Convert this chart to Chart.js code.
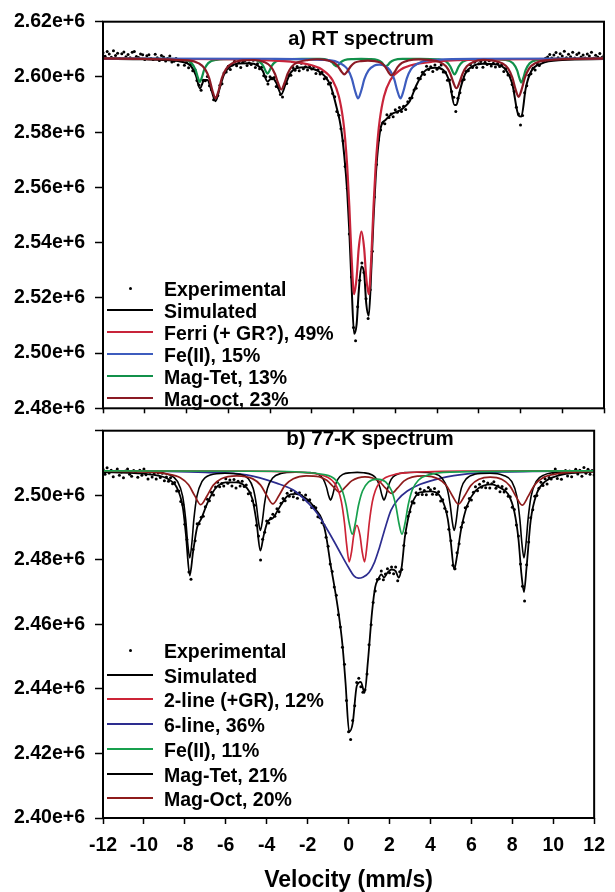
<!DOCTYPE html>
<html><head><meta charset="utf-8">
<script src="https://cdn.jsdelivr.net/npm/chart.js@4.4.1/dist/chart.umd.min.js"></script>
<style>
html,body{margin:0;padding:0;background:#fff;}
#wrap{position:relative;width:615px;height:892px;overflow:hidden;background:#fff;font-family:"Liberation Sans",Arial,sans-serif;font-weight:bold;color:#000;}
canvas{position:absolute;left:0;}
#c1{top:0;}
#c2{top:409px;}
.ptitle{position:absolute;white-space:nowrap;transform:translateX(-50%);line-height:24px;}
.row{position:absolute;white-space:nowrap;font-size:19.5px;line-height:22px;}
.mk{position:absolute;}
</style></head><body>
<div id="wrap">
<canvas id="c1" width="615" height="430"></canvas>
<canvas id="c2" width="615" height="483"></canvas>
<div class="ptitle" style="left:361px;top:26px;font-size:20px;">a) RT spectrum</div>
<div class="ptitle" style="left:370px;top:426px;font-size:20.5px;">b) 77-K spectrum</div>
<div id="leg1"></div><div id="leg2"></div>
</div>
<script>
// ---- velocity channels (mm/s) shared by both measured spectra ----
const velocity = [
-12,-11.9,-11.8,-11.7,-11.6,-11.5,-11.4,-11.3,-11.2,-11.1,
-11,-10.9,-10.8,-10.7,-10.6,-10.5,-10.4,-10.3,-10.2,-10.1,
-10,-9.9,-9.8,-9.7,-9.6,-9.5,-9.4,-9.3,-9.2,-9.1,
-9,-8.9,-8.8,-8.7,-8.6,-8.5,-8.4,-8.3,-8.2,-8.1,
-8,-7.9,-7.8,-7.7,-7.6,-7.5,-7.4,-7.3,-7.2,-7.1,
-7,-6.9,-6.8,-6.7,-6.6,-6.5,-6.4,-6.3,-6.2,-6.1,
-6,-5.9,-5.8,-5.7,-5.6,-5.5,-5.4,-5.3,-5.2,-5.1,
-5,-4.9,-4.8,-4.7,-4.6,-4.5,-4.4,-4.3,-4.2,-4.1,
-4,-3.9,-3.8,-3.7,-3.6,-3.5,-3.4,-3.3,-3.2,-3.1,
-3,-2.9,-2.8,-2.7,-2.6,-2.5,-2.4,-2.3,-2.2,-2.1,
-2,-1.9,-1.8,-1.7,-1.6,-1.5,-1.4,-1.3,-1.2,-1.1,
-1,-0.9,-0.8,-0.7,-0.6,-0.5,-0.4,-0.3,-0.2,-0.1,
0,0.1,0.2,0.3,0.4,0.5,0.6,0.7,0.8,0.9,
1,1.1,1.2,1.3,1.4,1.5,1.6,1.7,1.8,1.9,
2,2.1,2.2,2.3,2.4,2.5,2.6,2.7,2.8,2.9,
3,3.1,3.2,3.3,3.4,3.5,3.6,3.7,3.8,3.9,
4,4.1,4.2,4.3,4.4,4.5,4.6,4.7,4.8,4.9,
5,5.1,5.2,5.3,5.4,5.5,5.6,5.7,5.8,5.9,
6,6.1,6.2,6.3,6.4,6.5,6.6,6.7,6.8,6.9,
7,7.1,7.2,7.3,7.4,7.5,7.6,7.7,7.8,7.9,
8,8.1,8.2,8.3,8.4,8.5,8.6,8.7,8.8,8.9,
9,9.1,9.2,9.3,9.4,9.5,9.6,9.7,9.8,9.9,
10,10.1,10.2,10.3,10.4,10.5,10.6,10.7,10.8,10.9,
11,11.1,11.2,11.3,11.4,11.5,11.6,11.7,11.8,11.9,
12];

// ---- a) RT spectrum ----
const rtExperimental = [
2608800,2607500,2609200,2608300,2607100,2609500,2607800,2608600,2606700,2608400,
2609000,2607300,2608100,2606900,2608900,2609200,2607400,2607000,2608300,2608000,
2606300,2607650,2608050,2606650,2606350,2608250,2606950,2605950,2607750,2607250,
2605750,2606650,2607570,2605400,2605720,2606650,2604280,2606000,2606100,2604250,
2605200,2603300,2604550,2602200,2602700,2598700,2597100,2595200,2598800,2598600,
2600130,2596800,2595400,2591700,2592400,2593300,2596990,2597500,2601440,2601800,
2603900,2602700,2604300,2605700,2604050,2605520,2603380,2605320,2605940,2604150,
2605040,2604500,2606050,2603450,2604790,2603000,2603500,2600400,2600100,2597450,
2600100,2599310,2599800,2596570,2596200,2593600,2592700,2597200,2597600,2600600,
2600630,2603400,2602450,2603820,2602250,2604920,2602970,2603700,2602480,2604030,
2602860,2603800,2601200,2602580,2601050,2601800,2599340,2599700,2597400,2597770,
2594000,2592800,2587500,2586100,2581250,2576800,2567600,2559570,2543130,2527530,
2509300,2504500,2516800,2526400,2532600,2529200,2519700,2512500,2522900,2536900,
2556500,2568300,2577200,2580800,2583400,2583000,2586300,2585300,2586600,2585600,
2588100,2587200,2588900,2587500,2589400,2588200,2591000,2592300,2592500,2595300,
2595900,2599500,2599300,2601700,2600900,2603900,2602700,2603700,2601950,2604300,
2602750,2603400,2604350,2601800,2601700,2598800,2598930,2594700,2592600,2587500,
2592300,2594310,2598700,2599100,2602100,2602200,2604450,2603450,2605300,2603450,
2604750,2605600,2603470,2605280,2604460,2605820,2603980,2604920,2603560,2604900,
2603800,2604400,2602000,2602990,2600700,2600600,2597260,2594700,2589000,2586600,
2582600,2586000,2594300,2596800,2600600,2601170,2603100,2602500,2604900,2604150,
2606020,2605550,2606750,2607200,2608150,2606850,2607950,2608850,2606950,2608420,
2607590,2609330,2606960,2608200,2607330,2608960,2606890,2608110,2608630,2607250,
2607970,2606880,2608290,2607600,2608910,2606720,2607830,2607240,2608450,2607055,
2607760];

const rtSimVel = [-12,-10,-9,-8.3,-7.8,-7.55,-7.36,-7.15,-7.0,-6.8,-6.61,-6.4,-6.2,-5.9,-5.5,-5.0,-4.6,-4.35,-4.12,-3.9,-3.7,-3.46,-3.25,-3.0,-2.7,-2.3,-2.0,-1.7,-1.4,-1.1,-0.82,-0.6,-0.44,-0.3,-0.2,-0.1,0.03,0.15,0.25,0.38,0.51,0.61,0.73,0.86,0.96,1.06,1.16,1.3,1.55,1.82,2.05,2.25,2.45,2.7,3.0,3.4,3.9,4.3,4.6,4.84,4.93,5.1,5.35,5.7,6.2,6.8,7.3,7.6,7.91,8.04,8.25,8.5,9.0,10,12];
const rtSimulated = [2606500,2606360,2606135,2605600,2604050,2600540,2595840,2598860,2598930,2595000,2591220,2596190,2600940,2603800,2604820,2604940,2604190,2602230,2598340,2599710,2597870,2593730,2597500,2601630,2603220,2603500,2603060,2602180,2600440,2596870,2589280,2581650,2571310,2558370,2544130,2526030,2507000,2510500,2522260,2531325,2528960,2518000,2513500,2531340,2548990,2563320,2573190,2581500,2584500,2586500,2587300,2588000,2589200,2591300,2596800,2602000,2603300,2602500,2598130,2589790,2589880,2595210,2601160,2603850,2604770,2604560,2602590,2597760,2586000,2585650,2595840,2601870,2604820,2606090,2606460];

const rtFerriVel = [-12,-5,-3,-2,-1.5,-1,-0.7,-0.5,-0.4,-0.3,-0.2,-0.1,0.03,0.15,0.25,0.38,0.51,0.61,0.73,0.86,0.96,1.06,1.16,1.26,1.46,1.76,2.26,2.76,3.76,5.76,12];
const rtFerri = [2606640,2606235,2605510,2604240,2602650,2598800,2592920,2584600,2577600,2567500,2553200,2535900,2521300,2527400,2537900,2544000,2537900,2527400,2521300,2535900,2553200,2567500,2577600,2584600,2592920,2598800,2602650,2604240,2605510,2606235,2606640];

const rtFe2Vel = [-12,-4,-1.5,-0.78,-0.28,-0.08,0.07,0.22,0.37,0.52,0.72,1.0,1.235,1.47,1.75,1.95,2.1,2.25,2.4,2.55,2.75,3.25,4.0,6.0,12];
const rtFe2 = [2606680,2606579,2606190,2605383,2602740,2599370,2595090,2592200,2594988,2599188,2602412,2604103,2604420,2604103,2602412,2599188,2594988,2592200,2595076,2599370,2602740,2605383,2606206,2606579,2606680];

const rtMagTetVel = [-12,-8.96,-8.16,-7.76,-7.56,-7.46,-7.36,-7.26,-7.16,-6.96,-6.56,-5.74,-4.92,-4.52,-4.32,-4.22,-4.12,-4.02,-3.92,-3.72,-3.32,-2.47,-1.62,-1.22,-1.02,-0.92,-0.82,-0.72,-0.62,-0.42,-0.02,0.365,0.75,1.15,1.35,1.45,1.55,1.65,1.75,1.95,2.35,3.2,4.04,4.44,4.64,4.74,4.84,4.94,5.04,5.24,5.64,6.44,7.24,7.64,7.84,7.94,8.04,8.14,8.24,8.44,8.84,9.64,12];
const rtMagTet = [2606700,2606570,2606200,2605000,2602450,2599900,2598200,2599900,2602450,2605000,2606200,2606485,2606375,2605600,2603950,2602300,2601200,2602300,2603950,2605600,2606375,2606570,2606530,2606120,2605250,2604380,2603800,2604380,2605250,2606120,2606480,2606540,2606480,2606120,2605250,2604380,2603800,2604380,2605250,2606120,2606530,2606566,2606358,2605540,2603800,2602060,2600900,2602060,2603800,2605540,2606358,2606477,2606187,2604960,2602350,2599740,2598000,2599740,2602350,2604960,2606187,2606566,2606700];

const rtMagOctVel = [-12,-7.91,-7.41,-7.11,-6.91,-6.76,-6.61,-6.46,-6.31,-6.11,-5.81,-5.31,-4.76,-4.26,-3.96,-3.76,-3.61,-3.46,-3.31,-3.16,-2.96,-2.66,-2.16,-1.74,-1.24,-0.94,-0.74,-0.59,-0.44,-0.29,-0.14,0.06,0.36,0.69,1.02,1.32,1.52,1.67,1.82,1.97,2.12,2.32,2.62,3.12,3.63,4.13,4.43,4.63,4.78,4.93,5.08,5.23,5.43,5.73,6.23,6.61,7.11,7.41,7.61,7.76,7.91,8.06,8.21,8.41,8.71,9.21,12];
const rtMagOct = [2606700,2605975,2604916,2602857,2599450,2595100,2592200,2595100,2599450,2602857,2604916,2605975,2606137,2605316,2603719,2601075,2597700,2595450,2597700,2601075,2603719,2605316,2606137,2606410,2605987,2605163,2603800,2602060,2600900,2602060,2603800,2605163,2605740,2605910,2605712,2605070,2603625,2601780,2600550,2601780,2603625,2605070,2605944,2606392,2606160,2605372,2603838,2601300,2598060,2595900,2598060,2601300,2603838,2605372,2606160,2606005,2604990,2603016,2599750,2595580,2592800,2595580,2599750,2603016,2604990,2606005,2606700];

// ---- b) 77-K spectrum ----
const ltExperimental = [
2508060,2506540,2508520,2506900,2507780,2505760,2507440,2508120,2506200,2507180,
2505460,2507540,2508120,2506500,2505880,2507660,2507120,2505570,2507720,2506160,
2508100,2506330,2505060,2507100,2505640,2506680,2505030,2506860,2505480,2506790,
2504500,2505680,2504340,2505450,2503600,2503950,2501280,2501300,2498100,2497130,
2491000,2486300,2476200,2474000,2483190,2485900,2491200,2491200,2493190,2493500,
2496400,2498780,2498300,2500900,2500100,2502580,2504000,2502600,2503650,2502850,
2505090,2503750,2504700,2502900,2504870,2502220,2504350,2502900,2504300,2502700,
2503160,2500500,2500700,2498260,2496900,2490720,2487400,2479900,2486400,2488500,
2492000,2491400,2492900,2494100,2493500,2495800,2494900,2497500,2499000,2498300,
2500600,2499700,2501500,2499550,2500900,2499100,2500750,2499900,2498640,2500100,
2498200,2498600,2496200,2496600,2496120,2493300,2493000,2491500,2490800,2487000,
2484200,2478700,2476400,2471600,2469000,2463000,2459200,2452900,2447600,2436400,
2426700,2424300,2430200,2434800,2442000,2443300,2440700,2439000,2439700,2444600,
2453700,2459900,2466800,2470300,2473900,2474100,2476500,2473800,2475600,2477200,
2476000,2477800,2475700,2477800,2473500,2476300,2477000,2484400,2488300,2493500,
2494900,2498000,2497600,2500800,2500200,2501900,2500200,2501500,2500150,2502400,
2501700,2500300,2502100,2500200,2501100,2498200,2498600,2496000,2494900,2489500,
2485900,2478300,2477200,2482200,2485000,2490100,2491600,2496100,2496600,2499000,
2498500,2500900,2502600,2501400,2503400,2502500,2504300,2502350,2503800,2502280,
2503600,2504200,2502200,2502900,2501100,2502700,2501000,2502000,2499700,2499500,
2496300,2495600,2490800,2487400,2478700,2471800,2467200,2478500,2485500,2493000,
2495500,2499700,2499900,2502200,2504000,2503000,2505100,2503500,2505500,2505050,
2506650,2508150,2505200,2506750,2504950,2506750,2507650,2505950,2507550,2505750,
2507200,2508040,2506580,2507720,2505860,2508600,2506840,2508080,2506520,2507660,
2506300];

const ltSimVel = [-12,-10.5,-9.5,-8.8,-8.4,-8.1,-7.95,-7.76,-7.6,-7.4,-7.2,-6.9,-6.5,-6.0,-5.5,-5.0,-4.7,-4.5,-4.31,-4.15,-3.95,-3.7,-3.4,-3.0,-2.6,-2.2,-1.86,-1.6,-1.3,-1.1,-0.88,-0.7,-0.5,-0.3,-0.15,0.03,0.2,0.4,0.6,0.78,0.95,1.15,1.3,1.45,1.6,1.73,1.9,2.1,2.3,2.45,2.6,2.75,2.9,3.05,3.35,3.6,4.0,4.4,4.7,4.85,5.0,5.16,5.3,5.5,5.8,6.2,6.6,7.0,7.4,7.8,8.1,8.3,8.45,8.57,8.7,8.9,9.2,9.6,10.2,11,12];
const ltSimulated = [2507160,2506860,2506280,2504940,2502480,2496230,2487890,2475130,2482390,2490100,2492690,2497580,2502180,2503990,2504020,2502460,2498860,2491820,2482840,2487500,2491880,2492900,2496000,2499700,2500400,2499540,2497750,2495500,2492500,2487500,2478500,2472000,2464000,2453700,2442000,2426700,2429300,2440900,2442200,2438800,2448900,2464000,2471500,2474000,2475500,2474500,2476000,2477000,2476500,2474500,2478000,2487000,2492500,2496500,2500300,2501000,2501200,2500300,2496500,2492500,2485200,2477000,2481200,2489500,2496900,2501400,2503000,2503400,2502300,2500300,2494900,2486500,2475300,2470000,2477900,2492200,2500600,2504200,2506000,2506900,2507300];

const ltTwoLineVel = [-12,-5,-3,-2,-1.5,-1,-0.7,-0.5,-0.35,-0.2,-0.1,0.03,0.15,0.25,0.405,0.56,0.66,0.78,0.91,1.01,1.16,1.31,1.51,1.81,2.31,2.81,3.81,5.81,12];
const ltTwoLine = [2507575,2507475,2507282,2506945,2506525,2505474,2503860,2501480,2497970,2491400,2485020,2479380,2482700,2487480,2490680,2487480,2482700,2479380,2485020,2491400,2497970,2501480,2503860,2505474,2506525,2506945,2507282,2507475,2507575];

const ltSixLineVel = [-12,-9,-7,-5,-3.52,-2.7,-1.93,-1.5,-1.13,-0.7,-0.33,0,0.25,0.47,0.7,1.0,1.27,1.5,1.8,2.07,2.4,2.87,3.5,4.47,5.9,7.5,9,12];
const ltSixLine = [2507500,2507400,2507100,2506300,2503750,2501600,2497300,2494100,2490300,2485600,2481300,2477600,2475100,2474300,2474600,2476100,2479300,2483600,2490100,2495300,2498600,2501300,2503400,2505250,2506700,2507200,2507400,2507500];

const ltFe2Vel = [-12,-4,-1.12,-0.62,-0.32,-0.12,0.03,0.18,0.33,0.48,0.68,0.98,1.395,1.81,2.11,2.31,2.46,2.61,2.76,2.91,3.11,3.41,3.91,5,12];
const ltFe2 = [2507570,2507438,2506320,2504665,2501638,2496918,2491402,2487960,2491311,2496740,2501335,2504123,2505022,2504123,2501335,2496740,2491311,2487960,2491397,2496908,2501628,2504660,2506315,2507160,2507570];

const ltMagTetVel = [-12,-9.56,-8.76,-8.36,-8.11,-7.96,-7.86,-7.76,-7.66,-7.56,-7.41,-7.16,-6.76,-6.04,-5.31,-4.91,-4.66,-4.51,-4.41,-4.31,-4.21,-4.11,-3.96,-3.71,-3.31,-2.6,-1.88,-1.48,-1.23,-1.08,-0.98,-0.88,-0.78,-0.68,-0.53,-0.28,0.12,0.425,0.73,1.13,1.38,1.53,1.63,1.73,1.83,1.93,2.08,2.33,2.73,3.36,4.16,4.56,4.81,4.96,5.06,5.16,5.26,5.36,5.51,5.76,6.16,6.9,7.57,7.97,8.22,8.37,8.47,8.57,8.67,8.77,8.92,9.17,9.57,10.37,12];
const ltMagTet = [2507500,2507184,2506304,2504279,2499716,2492507,2485055,2480600,2485055,2492507,2499716,2504279,2506304,2506839,2506485,2505184,2502100,2497258,2492152,2489100,2492152,2497258,2502198,2505324,2506712,2507132,2507007,2506481,2504943,2502513,2500001,2498500,2500001,2502513,2504943,2506481,2506990,2507074,2506990,2506368,2504943,2502513,2500001,2498500,2500001,2502513,2504943,2506364,2507006,2507145,2506712,2505324,2502198,2497258,2492152,2489100,2492152,2497258,2502198,2505151,2506479,2506814,2506145,2504279,2499716,2492507,2485055,2480600,2485055,2492507,2499716,2504279,2506304,2507184,2507500];

const ltMagOctVel = [-12,-10,-8.82,-8.22,-7.82,-7.52,-7.22,-6.92,-6.62,-6.22,-5.46,-4.7,-4.3,-4.0,-3.7,-3.4,-3.1,-2.7,-2.07,-1.45,-1.05,-0.75,-0.45,-0.15,0.15,0.8,1.5,1.8,2.1,2.4,2.7,3.1,3.73,4.37,4.77,5.07,5.37,5.67,5.97,6.37,6.925,7.48,7.88,8.18,8.48,8.78,9.08,9.48,10.08,11,12];
const ltMagOct = [2507430,2507200,2506569,2505420,2503232,2499870,2497071,2499762,2503057,2505123,2506033,2505148,2503148,2499963,2497309,2499931,2503129,2505143,2506032,2505728,2504570,2502654,2500997,2502561,2504445,2505684,2504303,2502258,2500571,2502298,2504383,2505635,2506000,2505099,2503075,2499871,2497238,2499831,2502994,2504942,2505597,2504933,2502908,2499607,2496911,2499713,2503130,2505349,2506544,2507129,2507344];

// tick marks of the axes and legend texts
const velTicks = {min: -12, max: 12, step: 2};
const rtCountTicks = {min: 2480000, max: 2620000, step: 20000};
const ltCountTicks = {min: 2400000, max: 2520000, step: 20000};
const rtLegendLabels = ['Experimental','Simulated','Ferri (+ GR?), 49%','Fe(II), 15%','Mag-Tet, 13%','Mag-oct, 23%'];
const ltLegendLabels = ['Experimental','Simulated','2-line (+GR), 12%','6-line, 36%','Fe(II), 11%','Mag-Tet, 21%','Mag-Oct, 20%'];

// ---- styles ----
const rtColors = {ferri:'#C8243A', fe2:'#3D5CBE', tet:'#11904A', oct:'#8B1A24'};
const ltColors = {two:'#CC2436', six:'#2D2D8F', fe2:'#18A04E', tet:'#000000', oct:'#8E1B1B'};
const FAM = '"Liberation Sans", Arial, sans-serif';
const tickFont = {family: FAM, size: 19.5, weight: 'bold'};

function pts(xs, ys){ return xs.map((x, i) => ({x: x, y: ys[i]})); }
function curve(label, xs, ys, color, width, order){
  return {label, data: pts(xs, ys), showLine: true, borderColor: color, backgroundColor: color,
    borderWidth: width, pointRadius: 0, pointHoverRadius: 0, fill: false,
    cubicInterpolationMode: 'monotone', order};
}
function dots(label, xs, ys, order){
  return {label, data: pts(xs, ys), showLine: false, pointRadius: 1.5, pointHoverRadius: 0,
    pointBackgroundColor: '#000', pointBorderWidth: 0, borderColor: '#000', backgroundColor: '#000', order};
}
const frame = {id: 'frame', afterDatasetsDraw(chart){
  const a = chart.chartArea, c = chart.ctx;
  c.save(); c.strokeStyle = '#000'; c.lineWidth = 2;
  c.strokeRect(a.left, a.top, a.right - a.left, a.bottom - a.top); c.restore();
}};
const fmt = v => (v / 1e6).toFixed(2) + 'e+6';

function yScale(t, hideTop){
  return {type: 'linear', min: t.min, max: t.max,
    ticks: {stepSize: t.step, font: tickFont, color: '#000', padding: 10,
      callback: v => (hideTop && v >= t.max) ? '' : fmt(v)},
    grid: {display: true, drawOnChartArea: false, drawTicks: true, tickLength: 8, tickColor: '#000', tickWidth: 1.5},
    border: {display: false},
    afterFit: s => { s.width = 103; }};
}

new Chart(document.getElementById('c1'), {
  type: 'scatter',
  data: {datasets: [
    dots('Experimental', velocity, rtExperimental, 6),
    curve('Simulated', rtSimVel, rtSimulated, '#000', 2, 5),
    curve('Ferri (+ GR?), 49%', rtFerriVel, rtFerri, rtColors.ferri, 2.2, 2),
    curve('Fe(II), 15%', rtFe2Vel, rtFe2, rtColors.fe2, 2.2, 1),
    curve('Mag-Tet, 13%', rtMagTetVel, rtMagTet, rtColors.tet, 2.2, 3),
    curve('Mag-oct, 23%', rtMagOctVel, rtMagOct, rtColors.oct, 2.2, 0)
  ]},
  options: {responsive: false, animation: false, events: [],
    layout: {padding: {top: 17, right: 11, left: 0, bottom: 0}},
    plugins: {legend: {display: false}, tooltip: {enabled: false}},
    scales: {
      x: {type: 'linear', min: velTicks.min, max: velTicks.max,
        ticks: {stepSize: velTicks.step, display: false},
        grid: {display: true, drawOnChartArea: false, drawTicks: true, tickLength: 5, tickColor: '#000', tickWidth: 1.5},
        border: {display: false},
        afterFit: s => { s.height = 11; }},
      y: yScale(rtCountTicks, false)
    }},
  plugins: [frame]
});

new Chart(document.getElementById('c2'), {
  type: 'scatter',
  data: {datasets: [
    dots('Experimental', velocity, ltExperimental, 6),
    curve('Simulated', ltSimVel, ltSimulated, '#000', 1.8, 5),
    curve('2-line (+GR), 12%', ltTwoLineVel, ltTwoLine, ltColors.two, 1.7, 1),
    curve('6-line, 36%', ltSixLineVel, ltSixLine, ltColors.six, 1.7, 4),
    curve('Fe(II), 11%', ltFe2Vel, ltFe2, ltColors.fe2, 1.7, 0),
    curve('Mag-Tet, 21%', ltMagTetVel, ltMagTet, ltColors.tet, 1.6, 3),
    curve('Mag-Oct, 20%', ltMagOctVel, ltMagOct, ltColors.oct, 1.7, 2)
  ]},
  options: {responsive: false, animation: false, events: [],
    layout: {padding: {top: 10, right: 11, left: 0, bottom: 0}},
    plugins: {legend: {display: false}, tooltip: {enabled: false}},
    scales: {
      x: {type: 'linear', min: velTicks.min, max: velTicks.max,
        ticks: {stepSize: velTicks.step, font: tickFont, color: '#000', padding: 10, maxRotation: 0, autoSkip: false,
          callback: v => String(v)},
        title: {display: true, text: 'Velocity (mm/s)', color: '#000',
          font: {family: FAM, size: 23, weight: 'bold', lineHeight: 1}, padding: {top: 0, bottom: 0}},
        grid: {display: true, drawOnChartArea: false, drawTicks: true, tickLength: 6, tickColor: '#000', tickWidth: 1.5},
        border: {display: false},
        afterFit: s => { s.height = 74; }},
      y: yScale(ltCountTicks, true)
    }},
  plugins: [frame]
});

// ---- legends inside the panels (real text) ----
function buildLegend(id, labels, colors, firstY, stepY){
  const host = document.getElementById(id);
  labels.forEach((lab, i) => {
    const cy = Math.round(firstY + i * stepY);
    const col = colors[i];
    const mk = document.createElement('div');
    mk.className = 'mk';
    if (col === null) {
      mk.style.cssText = 'left:129px;top:' + (cy - 2) + 'px;width:3px;height:3px;border-radius:50%;background:#000;';
    } else {
      mk.style.cssText = 'left:107px;top:' + (cy - 2) + 'px;width:46px;height:2px;background:' + col + ';';
    }
    host.appendChild(mk);
    const t = document.createElement('div');
    t.className = 'row';
    t.style.left = '164px';
    t.style.top = (cy - 11) + 'px';
    t.textContent = lab;
    host.appendChild(t);
  });
}
buildLegend('leg1', rtLegendLabels, [null, '#000', rtColors.ferri, rtColors.fe2, rtColors.tet, rtColors.oct], 288.5, 22);
buildLegend('leg2', ltLegendLabels, [null, '#000', ltColors.two, ltColors.six, ltColors.fe2, ltColors.tet, ltColors.oct], 651, 24.7);
</script>
</body></html>
